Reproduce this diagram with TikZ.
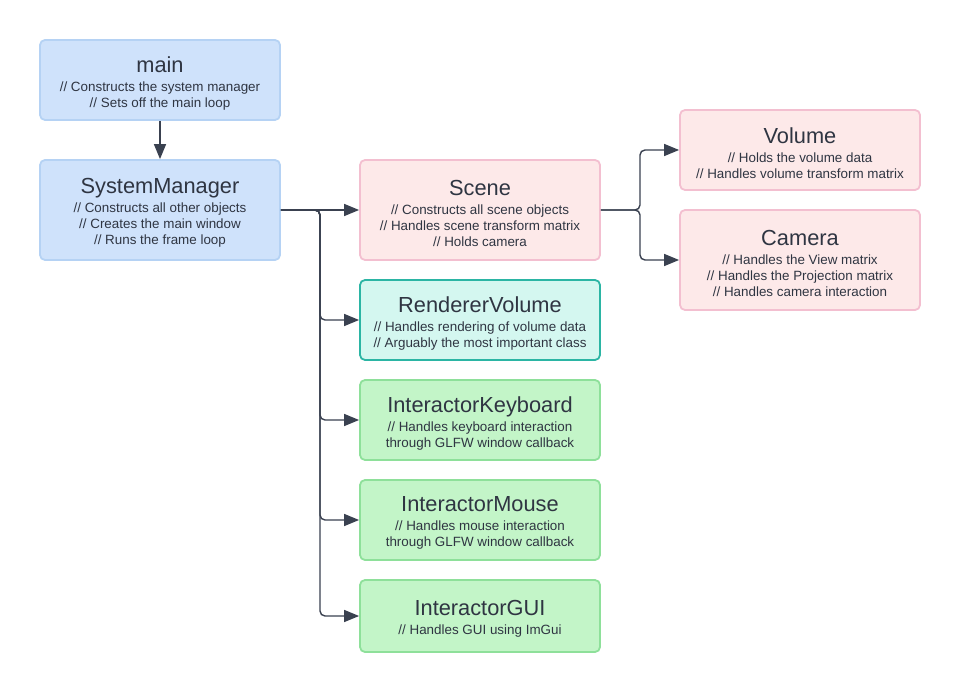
\documentclass[tikz,border=0pt]{standalone}
\usepackage{fontspec}
\setmainfont{Liberation Sans}
\usetikzlibrary{arrows.meta}
\definecolor{txt}{HTML}{2F3542}
\definecolor{arr}{HTML}{3A4150}
\definecolor{bluef}{HTML}{CFE2FB}
\definecolor{blued}{HTML}{B5D2F4}
\definecolor{pinkf}{HTML}{FDE9E9}
\definecolor{pinkd}{HTML}{F3BFD0}
\definecolor{tealf}{HTML}{D4F7F0}
\definecolor{teald}{HTML}{2BB5A4}
\definecolor{greenf}{HTML}{C3F5C8}
\definecolor{greend}{HTML}{8EE09A}
\tikzset{
  box/.style={draw, line width=1.8pt, rounded corners=5pt, minimum width=240pt, inner sep=0pt},
  bluebox/.style={box, fill=bluef, draw=blued},
  pinkbox/.style={box, fill=pinkf, draw=pinkd},
  tealbox/.style={box, fill=tealf, draw=teald},
  greenbox/.style={box, fill=greenf, draw=greend},
  label/.style={align=center, text=txt, inner sep=0pt,
    font=\fontsize{13.4}{16}\selectfont},
  conn/.style={draw=arr, line width=1.4pt, rounded corners=5pt,
    -{Triangle[length=15pt,width=12pt]}}
}
\newcommand{\ttl}[1]{{\fontsize{21.8}{22}\selectfont #1}\\[3pt]}
\begin{document}
\begin{tikzpicture}[x=1pt,y=-1pt]
\useasboundingbox[fill=white] (0,0) rectangle (960,692);
\node[bluebox, minimum height=80pt] (main) at (160,80) {};
\node[bluebox, minimum height=100pt] (sm) at (160,210) {};
\node[pinkbox, minimum height=100pt] (scene) at (480,210) {};
\node[tealbox, minimum height=80pt] (rv) at (480,320) {};
\node[greenbox, minimum height=80pt] (kb) at (480,420) {};
\node[greenbox, minimum height=80pt] (mouse) at (480,520) {};
\node[greenbox, minimum height=72pt] (gui) at (480,616) {};
\node[pinkbox, minimum height=80pt] (vol) at (800,150) {};
\node[pinkbox, minimum height=100pt] (cam) at (800,260) {};
\node[label] (mainT) at ([yshift=-3pt]main.center)
  {\ttl{main}// Constructs the system manager\\// Sets off the main loop};
\node[label] (smT) at ([yshift=-3pt]sm.center)
  {\ttl{SystemManager}// Constructs all other objects\\// Creates the main window\\// Runs the frame loop};
\node[label] (sceneT) at ([yshift=-3pt]scene.center)
  {\ttl{Scene}// Constructs all scene objects\\// Handles scene transform matrix\\// Holds camera};
\node[label] (rvT) at ([yshift=-3pt]rv.center)
  {\ttl{RendererVolume}// Handles rendering of volume data\\// Arguably the most important class};
\node[label] (kbT) at ([yshift=-3pt]kb.center)
  {\ttl{InteractorKeyboard}// Handles keyboard interaction\\through GLFW window callback};
\node[label] (mouseT) at ([yshift=-3pt]mouse.center)
  {\ttl{InteractorMouse}// Handles mouse interaction\\through GLFW window callback};
\node[label] (guiT) at ([yshift=-3pt]gui.center)
  {\ttl{InteractorGUI}// Handles GUI using ImGui};
\node[label] (volT) at ([yshift=-3pt]vol.center)
  {\ttl{Volume}// Holds the volume data\\// Handles volume transform matrix};
\node[label] (camT) at ([yshift=-3pt]cam.center)
  {\ttl{Camera}// Handles the View matrix\\// Handles the Projection matrix\\// Handles camera interaction};
\coordinate (j1) at (320,210);
\coordinate (j2) at (640,210);
\draw[conn] (main) -- (sm);
\draw[conn] (sm.east) -- (scene.west);
\draw[conn] (sm.east) -- (j1) |- (rv.west);
\draw[conn] (sm.east) -- (j1) |- (kb.west);
\draw[conn] (sm.east) -- (j1) |- (mouse.west);
\draw[conn] (sm.east) -- (j1) |- (gui.west);
\draw[conn] (scene.east) -- (j2) |- (vol.west);
\draw[conn] (scene.east) -- (j2) |- (cam.west);
\end{tikzpicture}
\end{document}
